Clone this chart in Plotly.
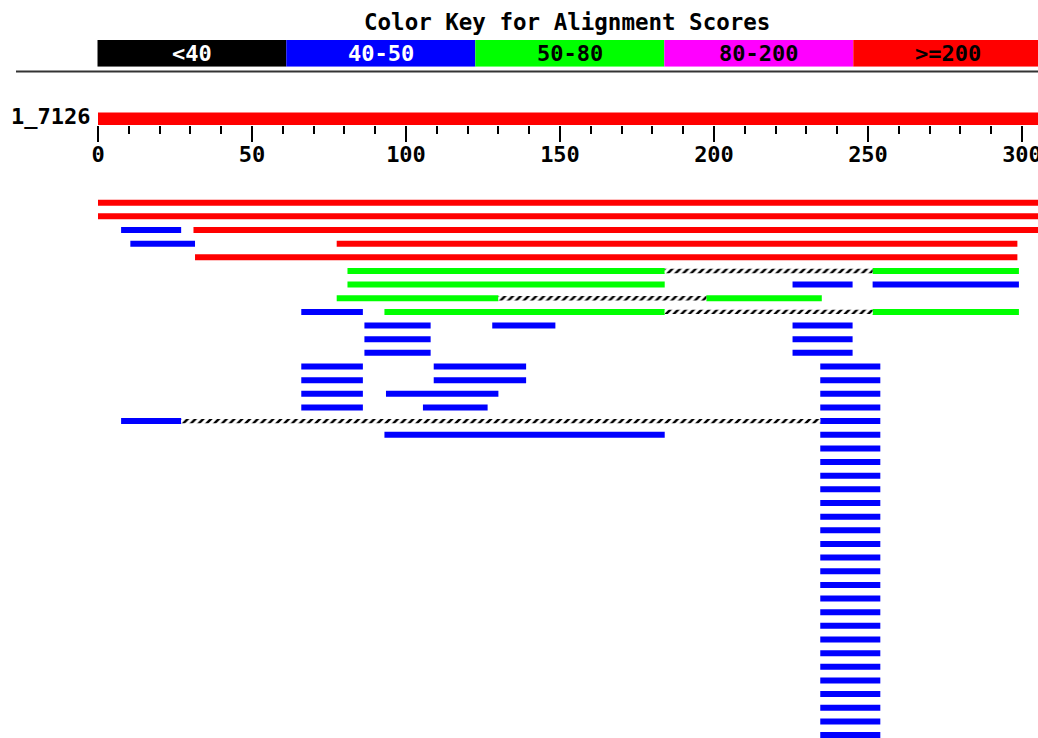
import plotly.graph_objects as go

# ---- alignment hits (query coordinates), one list per score class ----
QUERY_NAME = "1_7126"
QUERY_LEN = 310

red_rows  = [0, 1, 2, 3, 4]
red_start = [0, 0, 31, 77.5, 31.5]
red_end   = [310, 310, 310, 298.5, 298.5]

green_rows  = [5, 5, 6, 7, 7, 8, 8]
green_start = [81, 251.5, 81, 77.5, 197.5, 93, 251.5]
green_end   = [184, 299, 184, 130, 235, 184, 299]

blue_rows  = [2, 3, 6, 6, 8, 9, 9, 9, 10, 10, 11, 11,
              12, 12, 13, 13, 14, 14, 15, 15, 16, 17]
blue_start = [7.5, 10.5, 225.5, 251.5, 66, 86.5, 128, 225.5, 86.5, 225.5, 86.5, 225.5,
              66, 109, 66, 109, 66, 93.5, 66, 105.5, 7.5, 93]
blue_end   = [27, 31.5, 245, 299, 86, 108, 148.5, 245, 108, 245, 108, 245,
              86, 139, 86, 139, 86, 130, 86, 126.5, 27, 184]

# repeated hit block at the same location
column_rows  = list(range(12, 40))
column_start = [234.5] * len(column_rows)
column_end   = [254] * len(column_rows)

# gaps joining HSPs of the same subject
gap_rows  = [5, 7, 8, 16]
gap_start = [184, 130, 184, 27]
gap_end   = [251.5, 197.5, 251.5, 234.5]

# colour key
key_labels = ["<40", "40-50", "50-80", "80-200", ">=200"]
key_colors = ["#000000", "#0000ff", "#00ff00", "#ff00ff", "#ff0000"]
key_text_colors = ["#ffffff", "#ffffff", "#000000", "#000000", "#000000"]

tick_vals = [0, 50, 100, 150, 200, 250, 300]
minor_tick_vals = [v for v in range(0, 310, 10) if v % 50]

# ---- layout constants ----
W, H = 1038, 738
PX_PER_UNIT = 3.08
X0_PX = 98.0
ROW0_PX = 202.7
ROW_STEP = 13.65
QUERY_ROW = -6.15
FONT = "DejaVu Sans Mono"
FSIZE = 22

x_range = [-X0_PX / PX_PER_UNIT, (W - X0_PX) / PX_PER_UNIT]
y_range = [(H - ROW0_PX) / ROW_STEP, -ROW0_PX / ROW_STEP]


def hbar(rows, starts, ends, color, width, **kw):
    return go.Bar(
        orientation="h",
        y=rows,
        base=starts,
        x=[e - s for s, e in zip(starts, ends)],
        width=width,
        marker=dict(color=color, line=dict(width=0), **kw),
        hoverinfo="skip",
        showlegend=False,
        xaxis="x", yaxis="y",
    )


fig = go.Figure()

# query bar
fig.add_trace(hbar([QUERY_ROW], [0], [QUERY_LEN], "#ff0000", 0.92))

fig.add_trace(hbar(red_rows, red_start, red_end, "#ff0000", 0.44))
fig.add_trace(hbar(green_rows, green_start, green_end, "#00ff00", 0.44))
fig.add_trace(hbar(blue_rows, blue_start, blue_end, "#0000ff", 0.44))
fig.add_trace(hbar(column_rows, column_start, column_end, "#0000ff", 0.44))
fig.add_trace(hbar(gap_rows, gap_start, gap_end, "#ffffff", 0.32,
                   pattern=dict(shape="/", fgcolor="#000000", bgcolor="#ffffff",
                                size=5.5, solidity=0.45, fillmode="replace")))

# colour key as a row of unit bars
fig.add_trace(go.Bar(
    orientation="h",
    y=[0] * len(key_labels),
    base=list(range(len(key_labels))),
    x=[1] * len(key_labels),
    width=1,
    marker=dict(color=key_colors, line=dict(width=0)),
    hoverinfo="skip", showlegend=False,
    xaxis="x3", yaxis="y3",
))

for i, (lab, tc) in enumerate(zip(key_labels, key_text_colors)):
    fig.add_annotation(
        x=i + 0.5, y=0, xref="x3", yref="y3", text=f"<b>{lab}</b>",
        showarrow=False, font=dict(family=FONT, size=FSIZE, color=tc),
        xanchor="center", yanchor="middle",
    )

# title of the key
fig.add_annotation(
    x=567 / W, y=1 - 22 / H, xref="paper", yref="paper",
    text="<b>Color Key for Alignment Scores</b>", showarrow=False,
    font=dict(family=FONT, size=FSIZE + 0.5, color="#000000"),
    xanchor="center", yanchor="middle",
)

# query name
fig.add_annotation(
    x=-2, y=QUERY_ROW - 0.2, xref="x", yref="y",
    text=f"<b>{QUERY_NAME}</b>", showarrow=False,
    font=dict(family=FONT, size=FSIZE, color="#000000"),
    xanchor="right", yanchor="middle",
)

# separator under the key
fig.add_shape(type="line", xref="paper", yref="paper",
              x0=16 / W, x1=1, y0=1 - 71.5 / H, y1=1 - 71.5 / H,
              line=dict(color="#333333", width=2))

key_w_px = 189.0
key_x0_px = 97.3
fig.update_layout(
    width=W, height=H,
    margin=dict(l=0, r=0, t=0, b=0, autoexpand=False),
    paper_bgcolor="#ffffff", plot_bgcolor="rgba(0,0,0,0)",
    barmode="overlay",
    xaxis=dict(range=x_range, domain=[0, 1], visible=False, fixedrange=True),
    yaxis=dict(range=y_range, domain=[0, 1], visible=False, fixedrange=True),
    # ruler under the query bar
    xaxis2=dict(
        range=x_range, domain=[0, 1], overlaying="x", anchor="free",
        position=1 - 125 / H, side="bottom", automargin=False,
        tickmode="array", tickvals=tick_vals, ticktext=[f"<b>{v}</b>" for v in tick_vals],
        ticks="outside", ticklen=16, tickwidth=2, tickcolor="#000000",
        ticklabeloverflow="allow", ticklabelstandoff=-6,
        minor=dict(tickmode="array", tickvals=minor_tick_vals, ticks="outside",
                   ticklen=8, tickwidth=2, tickcolor="#000000", showgrid=False),
        showline=False, showgrid=False, zeroline=False,
        tickfont=dict(family=FONT, size=FSIZE, color="#000000"),
        fixedrange=True,
    ),
    xaxis3=dict(range=[0, (W - key_x0_px) / key_w_px], domain=[key_x0_px / W, 1],
                anchor="y3", visible=False, fixedrange=True),
    yaxis3=dict(range=[-0.5, 0.5], domain=[1 - 66.7 / H, 1 - 40 / H],
                anchor="x3", visible=False, fixedrange=True),
)

# invisible marker so the ruler axis is drawn
fig.add_trace(go.Scatter(x=[0], y=[QUERY_ROW], mode="markers",
                         marker=dict(opacity=0), xaxis="x2", yaxis="y",
                         hoverinfo="skip", showlegend=False))

fig.write_html("out.html")
